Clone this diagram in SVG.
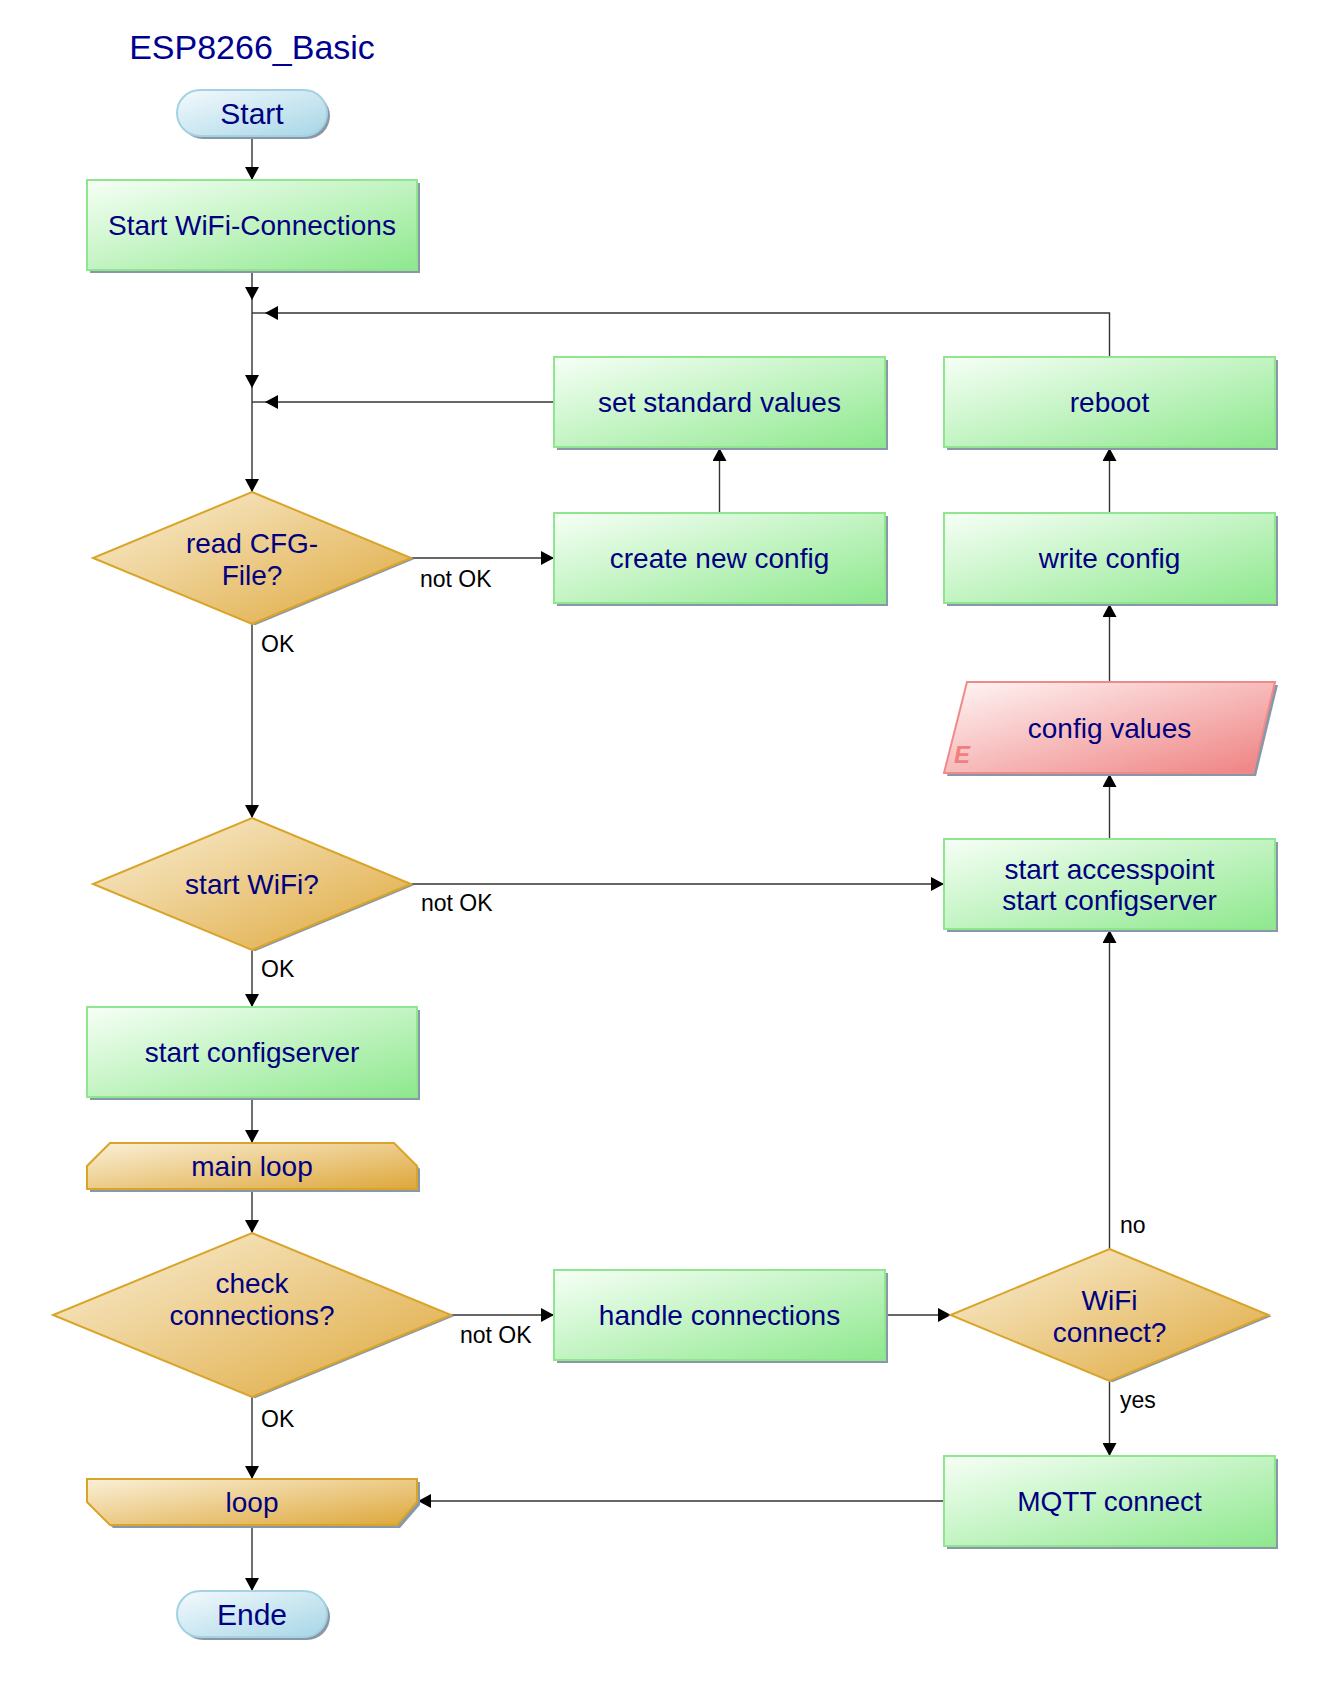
<svg xmlns="http://www.w3.org/2000/svg" width="1326" height="1681" viewBox="0 0 1326 1681">
<style>
text{font-family:"Liberation Sans",Arial,sans-serif}
.t{font-size:28px;fill:#000080;text-anchor:middle}
.tt{font-size:30px;fill:#000080;text-anchor:middle}
.title{font-size:34px;fill:#000090;text-anchor:middle}
.lbl{font-size:23px;fill:#000}
.proc{fill:url(#gGreen);stroke:#8fe68f;stroke-width:2}
.dec{fill:url(#gGold);stroke:#d9a42a;stroke-width:2}
.loopS{fill:url(#gGold);stroke:#d9a42a;stroke-width:2}
.term{fill:url(#gBlue);stroke:#a4d2e2;stroke-width:2}
.io{fill:url(#gRed);stroke:#f08a8a;stroke-width:2}
.sh{fill:#8898a8}
.c{fill:none;stroke:#333;stroke-width:1.4}
.ca{fill:none;stroke:#333;stroke-width:1.4;marker-end:url(#ar)}
.e{font-size:24px;font-weight:bold;font-style:italic;fill:#f08080}
</style>
<defs>
<linearGradient id="gGreen" x1="0" y1="0" x2="1" y2="1"><stop offset="0" stop-color="#f6fff6"/><stop offset="1" stop-color="#8ee88e"/></linearGradient>
<linearGradient id="gGold" x1="0" y1="0" x2="1" y2="1"><stop offset="0" stop-color="#faf0d8"/><stop offset="1" stop-color="#dea73a"/></linearGradient>
<linearGradient id="gBlue" x1="0" y1="0" x2="1" y2="1"><stop offset="0" stop-color="#f4fafd"/><stop offset="1" stop-color="#a6d6e6"/></linearGradient>
<linearGradient id="gRed" x1="0" y1="0" x2="1" y2="1"><stop offset="0" stop-color="#fff6f6"/><stop offset="1" stop-color="#ef8080"/></linearGradient>
<marker id="ar" markerUnits="userSpaceOnUse" markerWidth="14" markerHeight="14" refX="13" refY="7" orient="auto"><path d="M0,0 L13,7 L0,14 z" fill="#000"/></marker>
</defs>
<rect width="1326" height="1681" fill="#fff"/>
<text class="title" x="252" y="59">ESP8266_Basic</text>

<g id="connectors">
<path class="ca" d="M252,137 V180"/>
<path class="ca" d="M252,270 V300"/>
<path class="ca" d="M252,300 V388"/>
<path class="ca" d="M252,388 V492"/>
<path class="ca" d="M1109.5,357 V313 H265"/>
<path class="c" d="M265,313 H252"/>
<path class="ca" d="M554,402 H265"/>
<path class="c" d="M265,402 H252"/>
<path class="ca" d="M719.5,513 V448"/>
<path class="ca" d="M411,558 H554"/>
<text class="lbl" x="420" y="587">not OK</text>
<path class="ca" d="M252,624 V818"/>
<text class="lbl" x="261" y="652">OK</text>
<path class="ca" d="M411,884 H944"/>
<text class="lbl" x="421" y="911">not OK</text>
<path class="ca" d="M252,950 V1007"/>
<text class="lbl" x="261" y="977">OK</text>
<path class="ca" d="M252,1097 V1143"/>
<path class="ca" d="M252,1189 V1233"/>
<path class="ca" d="M451,1315 H554"/>
<text class="lbl" x="460" y="1343">not OK</text>
<path class="ca" d="M252,1397 V1479"/>
<text class="lbl" x="261" y="1427">OK</text>
<path class="ca" d="M252,1525 V1591"/>
<path class="ca" d="M885,1315 H951"/>
<path class="ca" d="M1109.5,1249 V930"/>
<text class="lbl" x="1120" y="1233">no</text>
<path class="ca" d="M1109.5,839 V774"/>
<path class="ca" d="M1109.5,682 V604"/>
<path class="ca" d="M1109.5,513 V448"/>
<path class="ca" d="M1109.5,1381 V1456"/>
<text class="lbl" x="1120" y="1408">yes</text>
<path class="ca" d="M944,1501 H418"/>
</g>

<g id="start">
<rect class="sh" x="180" y="93" width="150" height="46" rx="23"/>
<rect class="term" x="177" y="90" width="150" height="46" rx="23"/>
<text class="tt" x="252" y="124">Start</text>
</g>

<g id="startWifi">
<rect class="sh" x="90" y="183" width="330" height="90"/>
<rect class="proc" x="87" y="180" width="330" height="90"/>
<text class="t" x="252" y="235">Start WiFi-Connections</text>
</g>

<g id="setStandard">
<rect class="sh" x="557" y="360" width="331" height="90"/>
<rect class="proc" x="554" y="357" width="331" height="90"/>
<text class="t" x="719.5" y="412">set standard values</text>
</g>

<g id="reboot">
<rect class="sh" x="947" y="360" width="331" height="90"/>
<rect class="proc" x="944" y="357" width="331" height="90"/>
<text class="t" x="1109.5" y="412">reboot</text>
</g>

<g id="createConfig">
<rect class="sh" x="557" y="516" width="331" height="90"/>
<rect class="proc" x="554" y="513" width="331" height="90"/>
<text class="t" x="719.5" y="568">create new config</text>
</g>

<g id="writeConfig">
<rect class="sh" x="947" y="516" width="331" height="90"/>
<rect class="proc" x="944" y="513" width="331" height="90"/>
<text class="t" x="1109.5" y="568">write config</text>
</g>

<g id="readCfg">
<polygon class="sh" points="255,493.3 414,559.3 255,625.3 96,559.3"/>
<polygon class="dec" points="252,492 411,558 252,624 93,558"/>
<text class="t" x="252" y="553">read CFG-</text>
<text class="t" x="252" y="585">File?</text>
</g>

<g id="configValues">
<polygon class="sh" points="970,685 1278,685 1256,776 947,776"/>
<polygon class="io" points="967,682 1275,682 1253,773 944,773"/>
<text class="e" x="954" y="763">E</text>
<text class="t" x="1109.5" y="738">config values</text>
</g>

<g id="startWifiDec">
<polygon class="sh" points="255,819.3 414,885.3 255,951.3 96,885.3"/>
<polygon class="dec" points="252,818 411,884 252,950 93,884"/>
<text class="t" x="252" y="894">start WiFi?</text>
</g>

<g id="accesspoint">
<rect class="sh" x="947" y="842" width="331" height="90"/>
<rect class="proc" x="944" y="839" width="331" height="90"/>
<text class="t" x="1109.5" y="879">start accesspoint</text>
<text class="t" x="1109.5" y="910">start configserver</text>
</g>

<g id="configserver">
<rect class="sh" x="90" y="1010" width="330" height="90"/>
<rect class="proc" x="87" y="1007" width="330" height="90"/>
<text class="t" x="252" y="1062">start configserver</text>
</g>

<g id="mainLoop">
<polygon class="sh" points="113,1146 397,1146 420,1169 420,1192 90,1192 90,1169"/>
<polygon class="loopS" points="110,1143 394,1143 417,1166 417,1189 87,1189 87,1166"/>
<text class="t" x="252" y="1176">main loop</text>
</g>

<g id="checkConn">
<polygon class="sh" points="255,1234.3 454,1316.3 255,1398.3 56,1316.3"/>
<polygon class="dec" points="252,1233 451,1315 252,1397 53,1315"/>
<text class="t" x="252" y="1293">check</text>
<text class="t" x="252" y="1325">connections?</text>
</g>

<g id="handleConn">
<rect class="sh" x="557" y="1273" width="331" height="90"/>
<rect class="proc" x="554" y="1270" width="331" height="90"/>
<text class="t" x="719.5" y="1325">handle connections</text>
</g>

<g id="wifiConnect">
<polygon class="sh" points="1112.5,1250.3 1271.5,1316.3 1112.5,1382.3 953.5,1316.3"/>
<polygon class="dec" points="1109.5,1249 1268.5,1315 1109.5,1381 950.5,1315"/>
<text class="t" x="1109.5" y="1310">WiFi</text>
<text class="t" x="1109.5" y="1342">connect?</text>
</g>

<g id="mqtt">
<rect class="sh" x="947" y="1459" width="331" height="90"/>
<rect class="proc" x="944" y="1456" width="331" height="90"/>
<text class="t" x="1109.5" y="1511">MQTT connect</text>
</g>

<g id="loop">
<polygon class="sh" points="90,1482 420,1482 420,1505 400,1528 113,1528 90,1505"/>
<polygon class="loopS" points="87,1479 417,1479 417,1502 397,1525 110,1525 87,1502"/>
<text class="t" x="252" y="1512">loop</text>
</g>

<g id="ende">
<rect class="sh" x="180" y="1594" width="150" height="46" rx="23"/>
<rect class="term" x="177" y="1591" width="150" height="46" rx="23"/>
<text class="tt" x="252" y="1625">Ende</text>
</g>
</svg>
